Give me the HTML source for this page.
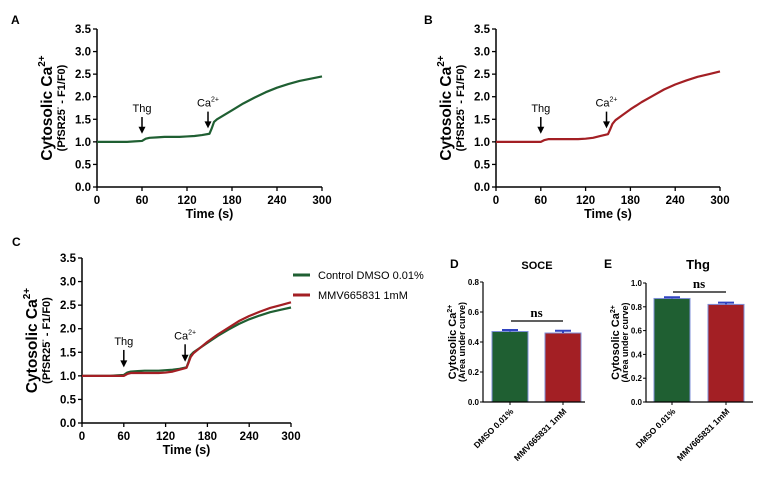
<!DOCTYPE html>
<html><head><meta charset="utf-8"><style>
body{margin:0;background:#fff}
svg{display:block;font-family:"Liberation Sans",Arial,sans-serif}
</style></head><body>
<svg id="fig" width="767" height="481" viewBox="0 0 767 481"></svg>
<script>
const timesS=[0,10,20,30,40,50,60,65,70,80,90,100,110,120,130,140,150,153,156,160,170,180,195,210,225,240,255,270,285,300];
const dmsoCa=[1.0,1.0,1.0,1.0,1.0,1.01,1.02,1.07,1.09,1.10,1.11,1.11,1.11,1.12,1.13,1.15,1.18,1.30,1.44,1.50,1.60,1.70,1.85,1.98,2.10,2.20,2.28,2.35,2.40,2.45];
const mmvCa=[1.0,1.0,1.0,1.0,1.0,1.0,1.0,1.04,1.06,1.06,1.06,1.06,1.06,1.07,1.09,1.13,1.17,1.28,1.40,1.48,1.60,1.72,1.88,2.02,2.16,2.27,2.36,2.44,2.50,2.56];
const barCats=["DMSO 0.01%","MMV665831 1mM"];
const soceVals=[0.47,0.46];
const soceErr=[0.01,0.015];
const thgVals=[0.87,0.82];
const thgErr=[0.01,0.015];
const xTicks=[0,60,120,180,240,300];
const yTicks=[0,0.5,1.0,1.5,2.0,2.5,3.0,3.5];
const GREEN="#1f5f32",RED="#a31f24";
const NS="http://www.w3.org/2000/svg";
const svg=document.getElementById('fig');
function el(t,a,p){const e=document.createElementNS(NS,t);for(const k in a)e.setAttribute(k,a[k]);(p||svg).appendChild(e);return e;}
function txt(s,a,p){const e=el('text',a,p);e.textContent=s;return e;}

function linePanel(name,letter,lx,ly,x0,x1,y0,y1,series,legend){
  const g=el('g',{});
  
  
  const X=v=>x0+(v/300)*(x1-x0), Y=v=>y0-(v/3.5)*(y0-y1);
  const pl=txt(letter,{x:lx,y:ly,'font-size':12,'font-weight':'bold'},g);
  
  const ax=el('path',{d:`M${x0},${y1} V${y0} H${x1}`,stroke:'#000','stroke-width':1.5,fill:'none'},g);
  
  yTicks.forEach(v=>{el('line',{x1:x0-4,x2:x0,y1:Y(v),y2:Y(v),stroke:'#000','stroke-width':1.3},g);
    const t=txt(v.toFixed(1),{x:x0-6,y:Y(v)+4,'font-size':11.5,'font-weight':'bold','text-anchor':'end'},g);
    });
  xTicks.forEach(v=>{el('line',{x1:X(v),x2:X(v),y1:y0,y2:y0+4,stroke:'#000','stroke-width':1.3},g);
    const t=txt(v,{x:X(v),y:y0+17,'font-size':11.5,'font-weight':'bold','text-anchor':'middle'},g);
    });
  const xt=txt('Time (s)',{x:(x0+x1)/2,y:y0+31,'font-size':12.5,'font-weight':'bold','text-anchor':'middle'},g);
  
  const cy=(y0+y1)/2;
  const yt=el('text',{transform:`translate(${x0-45},${cy}) rotate(-90)`,'text-anchor':'middle','font-size':15.5,'font-weight':'bold'},g);
  yt.innerHTML='Cytosolic Ca<tspan font-size="10" dy="-7">2+</tspan>';
  
  const yt2=el('text',{transform:`translate(${x0-32},${cy}) rotate(-90)`,'text-anchor':'middle','font-size':11,'font-weight':'bold'},g);
  yt2.innerHTML='(PfSR25<tspan font-size="7" dy="-5">-</tspan><tspan dy="5"> - F1/F0)</tspan>';
  
  series.forEach(s=>{
    const p=el('polyline',{points:timesS.map((t,i)=>X(t)+','+Y(s.v[i])).join(' '),fill:'none',stroke:s.c,'stroke-width':2.2,'stroke-linejoin':'round'},g);
    
  });
  [[60,'Thg',1.10],[148,'Ca',1.22]].forEach(([t,l,base])=>{
    const ax_=X(t),top=Y(base+0.45),bot=Y(base+0.08);
    el('line',{x1:ax_,x2:ax_,y1:top,y2:bot-5,stroke:'#000','stroke-width':1.5},g);
    const ah=el('path',{d:`M${ax_-3.5},${bot-7} L${ax_+3.5},${bot-7} L${ax_},${bot} Z`,fill:'#000'},g);
    
    const lt=el('text',{x:ax_,y:top-5,'font-size':11,'text-anchor':'middle'},g);
    if(l==='Thg')lt.textContent='Thg';else lt.innerHTML='Ca<tspan font-size="7" dy="-5">2+</tspan>';
    
  });
  if(legend){
    legend.forEach((s,i)=>{
      const ly2=275+i*20;
      const lg=el('g',{},g);
      
      el('line',{x1:293,x2:310,y1:ly2,y2:ly2,stroke:s.c,'stroke-width':3},lg);
      txt(s.label,{x:318,y:ly2+4,'font-size':11},lg);
    });
  }
}
linePanel('panel-a-chart','A',11,24,97,322,187,29,[{v:dmsoCa,c:GREEN,n:'dmso-line'}]);
linePanel('panel-b-chart','B',424,24,496,720,187,29,[{v:mmvCa,c:RED,n:'mmv-line'}]);
const leg=[{c:GREEN,label:'Control DMSO 0.01%'},{c:RED,label:'MMV665831 1mM'}];
linePanel('panel-c-chart','C',12,246,82,291,423,258,[{v:dmsoCa,c:GREEN,n:'dmso-line'},{v:mmvCa,c:RED,n:'mmv-line'}],leg);

function barPanel(name,letter,lx,title,tx,ax0,axEnd,yTop,yMax,ticks,vals,errs,barX,nsY){
  const y0=402;
  const g=el('g',{});
  
  const Y=v=>y0-(v/yMax)*(y0-yTop);
  const pl=txt(letter,{x:lx,y:268,'font-size':12,'font-weight':'bold'},g);
  
  const tt=txt(title,{x:tx,y:269,'font-size':title==='Thg'?13:11,'font-weight':'bold','text-anchor':'middle'},g);
  
  vals.forEach((v,i)=>{
    const b=el('rect',{x:barX[i],y:Y(v),width:36,height:y0-Y(v),fill:i?RED:GREEN,stroke:'#7f8fd8','stroke-width':1},g);
    
    const cx=barX[i]+18;
    el('path',{d:`M${cx},${Y(v)} V${Y(v+errs[i])} M${cx-8},${Y(v+errs[i])} H${cx+8}`,stroke:'#3044c0','stroke-width':2,fill:'none'},g);
    const c=txt(barCats[i],{transform:`translate(${cx+4},${y0+10}) rotate(-45)`,'font-size':8.5,'text-anchor':'end','font-weight':'bold'},g);
    
    el('line',{x1:cx,x2:cx,y1:y0,y2:y0+3,stroke:'#000'},g);
  });
  el('path',{d:`M${ax0},${yTop} V${y0} H${axEnd}`,stroke:'#000','stroke-width':1.2,fill:'none'},g);
  ticks.forEach(v=>{el('line',{x1:ax0-3,x2:ax0,y1:Y(v),y2:Y(v),stroke:'#000'},g);
    const t=txt(v.toFixed(1),{x:ax0-4,y:Y(v)+3,'font-size':8,'font-weight':'bold','text-anchor':'end'},g);
    });
  const mid=(y0+yTop)/2;
  const yt=el('text',{transform:`translate(${ax0-27},${mid}) rotate(-90)`,'font-size':11,'font-weight':'bold','text-anchor':'middle'},g);
  yt.innerHTML='Cytosolic Ca<tspan font-size="7" dy="-4">2+</tspan>';
  
  const yt2=txt('(Area under curve)',{transform:`translate(${ax0-18},${mid}) rotate(-90)`,'font-size':9,'font-weight':'bold','text-anchor':'middle'},g);
  
  el('line',{x1:barX[0]+19,x2:barX[1]+18,y1:nsY,y2:nsY,stroke:'#000','stroke-width':1.3},g);
  const ns=txt('ns',{x:(barX[0]+barX[1])/2+18,y:nsY-4,'font-size':13,'font-weight':'bold','font-family':'Liberation Serif, serif','text-anchor':'middle'},g);
  
}
barPanel('panel-d-chart','D',450,'SOCE',537,483,585,282,0.8,[0,0.2,0.4,0.6,0.8],soceVals,soceErr,[492,545],321);
barPanel('panel-e-chart','E',604,'Thg',698,646,753,283,1.0,[0,0.2,0.4,0.6,0.8,1.0],thgVals,thgErr,[654,708],292);
</script>
</body></html>
